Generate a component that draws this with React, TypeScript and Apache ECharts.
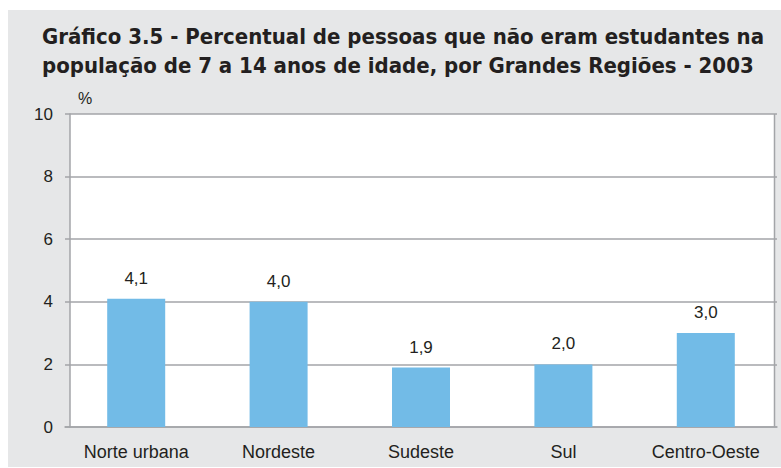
import React, { useEffect, useRef } from "react";
import * as echarts from "echarts";

const titleLines = [
  "Gráfico 3.5 - Percentual de pessoas que não eram estudantes na",
  "população de 7 a 14 anos de idade, por Grandes Regiões - 2003",
];
const categories = ["Norte urbana", "Nordeste", "Sudeste", "Sul", "Centro-Oeste"];
const values = [4.1, 4.0, 1.9, 2.0, 3.0];
const yUnit = "%";

const textColor = "#231f20";
const gridColor = "#a3a5a8";
const barColor = "#72bbe7";
const panelColor = "#e6e7e8";

export default function App() {
  const ref = useRef<HTMLDivElement>(null);
  useEffect(() => {
    if (!ref.current) return;
    const chart = echarts.init(ref.current, undefined, { renderer: "svg" });
    chart.setOption({
      animation: false,
      backgroundColor: "#ffffff",
      title: {
        text: titleLines.join("\n"),
        left: 37,
        top: 17,
        textStyle: {
          fontFamily: "'Liberation Sans Narrow', 'DejaVu Sans Condensed', Arial, sans-serif",
          fontWeight: "bold",
          fontSize: 22,
          lineHeight: 29,
          color: textColor,
        },
      },
      graphic: [
        {
          type: "rect",
          z: -10,
          silent: true,
          shape: { x: 8, y: 10, width: 773, height: 457 },
          style: { fill: panelColor },
        },
        {
          type: "rect",
          z: -9,
          silent: true,
          shape: { x: 70, y: 114, width: 704, height: 313 },
          style: { fill: "#ffffff" },
        },
        {
          type: "line",
          z: 5,
          silent: true,
          shape: { x1: 774.5, y1: 114, x2: 774.5, y2: 427 },
          style: { stroke: gridColor, lineWidth: 1.5 },
        },
        {
          type: "text",
          x: 78,
          y: 90,
          style: {
            text: yUnit,
            fontFamily: "'Liberation Sans', Arial, sans-serif",
            fontSize: 16,
            fill: textColor,
          },
        },
      ],
      grid: {
        left: 65,
        right: 4,
        top: 114,
        bottom: 41,
        containLabel: false,
      },
      xAxis: {
        type: "category",
        data: categories,
        axisLine: { show: true, lineStyle: { color: gridColor, width: 1.5 } },
        axisTick: { show: false },
        axisLabel: {
          margin: 16,
          fontFamily: "'Liberation Sans', Arial, sans-serif",
          fontSize: 18,
          color: textColor,
        },
      },
      yAxis: {
        type: "value",
        min: 0,
        max: 10,
        interval: 2,
        offset: -5,
        axisLine: { show: true, lineStyle: { color: gridColor, width: 1.5 } },
        axisTick: { show: false },
        splitLine: { show: true, lineStyle: { color: gridColor, width: 1.5 } },
        axisLabel: {
          margin: 17,
          fontFamily: "'Liberation Sans', Arial, sans-serif",
          fontSize: 17,
          color: textColor,
        },
      },
      series: [
        {
          type: "bar",
          data: values,
          barWidth: 58,
          itemStyle: { color: barColor },
          label: {
            show: true,
            position: "top",
            distance: 12,
            fontFamily: "'Liberation Sans', Arial, sans-serif",
            fontSize: 17,
            color: textColor,
            formatter: (p: any) => p.value.toFixed(1).replace(".", ","),
          },
        },
      ],
    });
    return () => chart.dispose();
  }, []);
  return (
    <div
      ref={ref}
      style={{ position: "fixed", left: 0, top: 0, width: 781, height: 468 }}
    />
  );
}
